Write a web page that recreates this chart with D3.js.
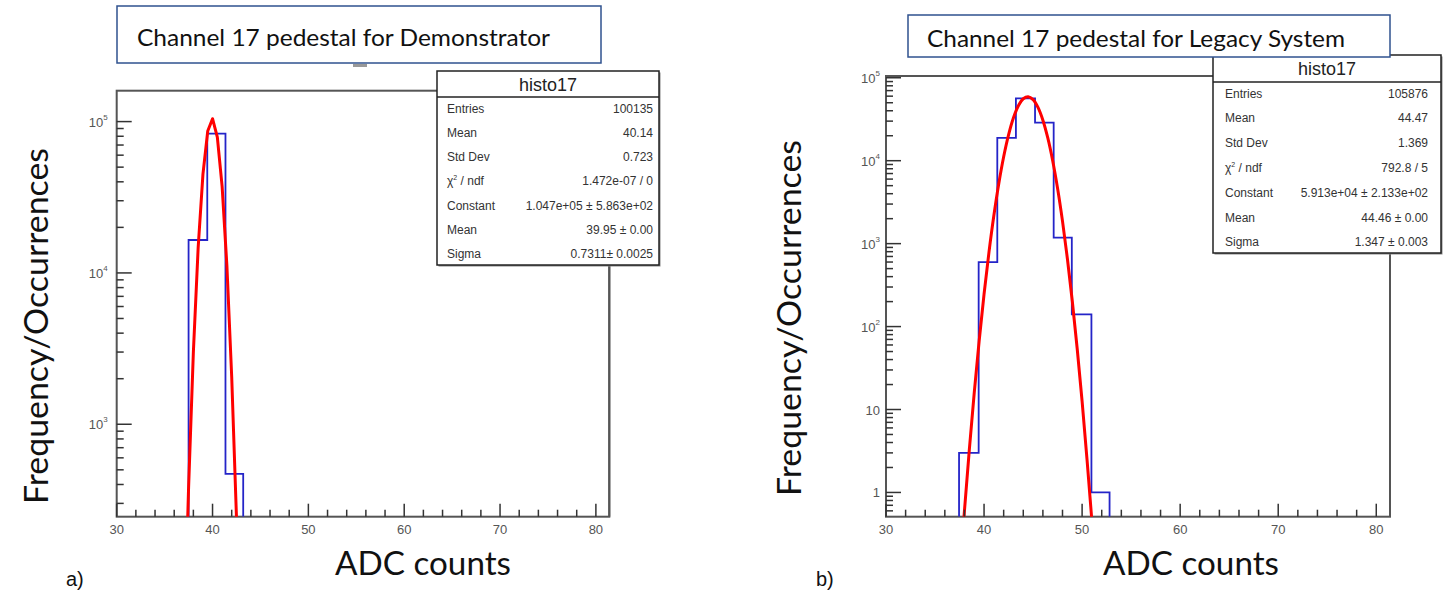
<!DOCTYPE html>
<html lang="en">
<head>
  <meta charset="UTF-8">
  <title>Channel 17 pedestal: Demonstrator vs Legacy System</title>
  <script src="https://d3js.org/d3.v7.min.js"></script>
  <style>
    body { margin: 0; background: #fff; }
    svg { display: block; }
    .sans { font-family: Lato, "Open Sans", sans-serif; }
    .root { font-family: "Liberation Sans", Arial, sans-serif; }
  </style>
</head>
<body>
  <div id="chart"></div>

  <script>
    // ---- data ----
    // a) Demonstrator
    const demoEdges = [37.5, 39.45, 41.35, 43.2];
    const demoCounts = [16500, 83200, 470];
    const demoFitX = [37.0, 37.5, 38.0, 38.5, 39.0, 39.5, 40.0, 40.5, 41.0, 41.5, 42.0, 42.5, 43.0];
    const demoFitY = [30, 380, 3000, 14700, 45000, 86700, 104500, 79000, 37300, 11100, 2060, 240, 17];
    const demoStatLabels = ["Entries", "Mean", "Std Dev", "chi2", "Constant", "Mean", "Sigma"];
    const demoStatValues = ["100135", "40.14", "0.723", "1.472e-07 / 0", "1.047e+05 \u00b1 5.863e+02", "39.95 \u00b1 0.00", "0.7311\u00b1 0.0025"];

    // b) Legacy System
    const legacyEdges = [37.45, 39.45, 41.35, 43.25, 45.2, 47.1, 48.95, 50.95, 52.8];
    const legacyCounts = [3, 600, 18800, 56300, 28800, 1180, 140, 1];
    const legacyFitX = [37.5, 38, 38.5, 39, 39.5, 40, 40.5, 41, 41.5, 42, 42.5, 43, 43.5, 44, 44.5,
                        45, 45.5, 46, 46.5, 47, 47.5, 48, 48.5, 49, 49.5, 50, 50.5, 51, 51.5];
    const legacyFitY = [0.094, 0.6, 3.3, 16, 67, 246, 785, 2180, 5280, 11170, 20500, 32900, 45900, 55800, 59100,
                        54600, 43900, 30800, 18800, 10000, 4630, 1870, 658, 202, 54, 12.5, 2.5, 0.45, 0.07];
    const legacyStatLabels = ["Entries", "Mean", "Std Dev", "chi2", "Constant", "Mean", "Sigma"];
    const legacyStatValues = ["105876", "44.47", "1.369", "792.8 / 5", "5.913e+04 \u00b1 2.133e+02", "44.46 \u00b1 0.00", "1.347 \u00b1 0.003"];

    const xLabelTicks = [30, 40, 50, 60, 70, 80];
    const xDomain = [30, 81.4];
    const demoYDomain = [245, 160000];
    const legacyYDomain = [0.51, 105000];

    const W = 1453, H = 596;
    const svg = d3.select("#chart").append("svg")
      .attr("width", W).attr("height", H);

    function drawPanel(p) {
      const g = svg.append("g");
      const x = d3.scaleLinear().domain(xDomain).range([p.x0, p.x1]);
      const y = d3.scaleLog().domain(p.yDomain).range([p.y1, p.y0]);

      // frame
      g.append("rect")
        .attr("x", p.x0).attr("y", p.y0)
        .attr("width", p.x1 - p.x0).attr("height", p.y1 - p.y0)
        .attr("fill", "#fff").attr("stroke", "#555").attr("stroke-width", 2);

      const clipId = "clip-" + p.id;
      svg.append("clipPath").attr("id", clipId).append("rect")
        .attr("x", p.x0).attr("y", p.y0)
        .attr("width", p.x1 - p.x0).attr("height", p.y1 - p.y0);

      // histogram outline
      const yMin = p.yDomain[0];
      const pts = [[p.edges[0], yMin]];
      p.counts.forEach((c, i) => {
        pts.push([p.edges[i], c]);
        pts.push([p.edges[i + 1], c]);
      });
      pts.push([p.edges[p.edges.length - 1], yMin]);
      g.append("path")
        .attr("clip-path", `url(#${clipId})`)
        .attr("d", d3.line().x(d => x(d[0])).y(d => y(d[1]))(pts))
        .attr("fill", "none").attr("stroke", "#2424c8").attr("stroke-width", 1.8);

      // fit curve
      const fit = p.fitX.map((v, i) => [v, p.fitY[i]]);
      g.append("path")
        .attr("clip-path", `url(#${clipId})`)
        .attr("d", d3.line().curve(p.curve).x(d => x(d[0])).y(d => y(d[1]))(fit))
        .attr("fill", "none").attr("stroke", "#ff0000").attr("stroke-width", 3)
        .attr("stroke-linejoin", "round");

      // x ticks: every 2, major every 10
      const xt = d3.range(30, 81.4, 2);
      g.selectAll(".xt").data(xt).enter().append("line")
        .attr("x1", d => x(d)).attr("x2", d => x(d))
        .attr("y1", p.y1).attr("y2", d => p.y1 - (d % 10 === 0 ? 13 : 7))
        .attr("stroke", "#333").attr("stroke-width", 1.5);
      g.selectAll(".xl").data(xLabelTicks).enter().append("text")
        .attr("class", "root")
        .attr("x", d => x(d)).attr("y", p.y1 + 17)
        .attr("text-anchor", "middle")
        .attr("font-size", 13).attr("fill", "#555")
        .text(d => d);

      // y ticks on log axis
      const yt = [];
      for (let e = Math.floor(Math.log10(p.yDomain[0])); e <= Math.ceil(Math.log10(p.yDomain[1])); e++) {
        for (let m = 1; m <= 9; m++) {
          const v = m * Math.pow(10, e);
          if (v >= p.yDomain[0] && v <= p.yDomain[1]) yt.push({ v, major: m === 1, e });
        }
      }
      g.selectAll(".yt").data(yt).enter().append("line")
        .attr("x1", p.x0).attr("x2", d => p.x0 + (d.major ? 15 : 7))
        .attr("y1", d => y(d.v)).attr("y2", d => y(d.v))
        .attr("stroke", "#333").attr("stroke-width", 1.5);
      yt.filter(d => d.major).forEach(d => {
        const t = g.append("text").attr("class", "root")
          .attr("x", p.x0 - p.labelGap).attr("y", y(d.v) + 5)
          .attr("text-anchor", "end").attr("font-size", 13).attr("fill", "#555");
        if (d.e === 0) t.text("1");
        else if (d.e === 1) t.text("10");
        else {
          t.append("tspan").text("10");
          t.append("tspan").attr("dy", -7).attr("font-size", 8).text(d.e);
        }
      });

      // right frame edge again on top of ticks
      g.append("line")
        .attr("x1", p.x1).attr("x2", p.x1).attr("y1", p.y0).attr("y2", p.y1)
        .attr("stroke", "#555").attr("stroke-width", 2);

      // stats box
      const s = p.stats;
      const sb = svg.append("g").attr("class", "root");
      sb.append("rect")
        .attr("x", s.x0 + 1.5).attr("y", s.y0 + 1.5)
        .attr("width", s.x1 - s.x0).attr("height", s.y1 - s.y0)
        .attr("fill", "#888");
      sb.append("rect")
        .attr("x", s.x0).attr("y", s.y0)
        .attr("width", s.x1 - s.x0).attr("height", s.y1 - s.y0)
        .attr("fill", "#fff").attr("stroke", "#222").attr("stroke-width", 1.5);
      sb.append("line")
        .attr("x1", s.x0).attr("x2", s.x1).attr("y1", s.yHead).attr("y2", s.yHead)
        .attr("stroke", "#222").attr("stroke-width", 1.5);
      sb.append("text")
        .attr("x", (s.x0 + s.x1) / 2).attr("y", (s.y0 + s.yHead) / 2 + 6.5)
        .attr("text-anchor", "middle").attr("font-size", 18).attr("fill", "#222")
        .attr("textLength", 58).attr("lengthAdjust", "spacingAndGlyphs")
        .text("histo17");
      p.statLabels.forEach((lab, i) => {
        const ty = s.row0 + i * s.rowStep + 4.5;
        const t = sb.append("text")
          .attr("x", s.labelX).attr("y", ty)
          .attr("font-size", 12).attr("fill", "#333");
        if (lab === "chi2") {
          t.append("tspan").text("\u03c7");
          t.append("tspan").attr("dy", -5).attr("font-size", 7).text("2");
          t.append("tspan").attr("dy", 5).text(" / ndf");
        } else {
          t.text(lab);
        }
        sb.append("text")
          .attr("x", s.valueX).attr("y", ty)
          .attr("text-anchor", "end")
          .attr("font-size", 12).attr("fill", "#333")
          .text(p.statValues[i]);
      });

      // title box
      const tb = p.title;
      svg.append("rect")
        .attr("x", tb.x).attr("y", tb.y).attr("width", tb.w).attr("height", tb.h)
        .attr("fill", "#fff").attr("stroke", "#2f528f").attr("stroke-width", 1.5);
      svg.append("text").attr("class", "sans")
        .attr("x", tb.tx).attr("y", tb.ty)
        .attr("font-size", 24).attr("fill", "#111")
        .attr("textLength", tb.len).attr("lengthAdjust", "spacingAndGlyphs")
        .text(tb.text);

      // axis titles
      svg.append("text").attr("class", "sans")
        .attr("transform", `translate(${p.yTitleX},${p.yTitleY}) rotate(-90)`)
        .attr("text-anchor", "middle")
        .attr("font-size", 32).attr("fill", "#111")
        .attr("textLength", 356).attr("lengthAdjust", "spacingAndGlyphs")
        .text("Frequency/Occurrences");
      svg.append("text").attr("class", "sans")
        .attr("x", p.xTitleX).attr("y", 575)
        .attr("text-anchor", "middle")
        .attr("font-size", 32).attr("fill", "#111")
        .attr("textLength", 176).attr("lengthAdjust", "spacingAndGlyphs")
        .text("ADC counts");
      svg.append("text")
        .attr("x", p.tagX).attr("y", 586)
        .attr("font-family", "Liberation Sans, Arial, sans-serif")
        .attr("font-size", 20).attr("fill", "#111")
        .text(p.tag);
    }

    drawPanel({
      id: "a", tag: "a)", tagX: 66,
      x0: 116.7, x1: 609.3, y0: 90.7, y1: 516.7,
      yDomain: demoYDomain, labelGap: 9,
      edges: demoEdges, counts: demoCounts,
      fitX: demoFitX, fitY: demoFitY, curve: d3.curveLinear,
      statLabels: demoStatLabels, statValues: demoStatValues,
      stats: { x0: 437, x1: 659, y0: 71, yHead: 97, y1: 265, row0: 108, rowStep: 24.3, labelX: 447, valueX: 653 },
      title: { x: 117, y: 6, w: 484, h: 57, tx: 137, ty: 46, len: 413, text: "Channel 17 pedestal for Demonstrator" },
      yTitleX: 48, yTitleY: 326, xTitleX: 423
    });

    drawPanel({
      id: "b", tag: "b)", tagX: 816,
      x0: 886, x1: 1390, y0: 76, y1: 516.7,
      yDomain: legacyYDomain, labelGap: 6,
      edges: legacyEdges, counts: legacyCounts,
      fitX: legacyFitX, fitY: legacyFitY, curve: d3.curveCatmullRom,
      statLabels: legacyStatLabels, statValues: legacyStatValues,
      stats: { x0: 1213, x1: 1441, y0: 55, yHead: 82, y1: 253, row0: 93, rowStep: 24.8, labelX: 1225, valueX: 1428 },
      title: { x: 908, y: 15, w: 482, h: 42, tx: 927, ty: 47, len: 418, text: "Channel 17 pedestal for Legacy System" },
      yTitleX: 801, yTitleY: 318, xTitleX: 1191
    });

    // small leftover mark under the first title box
    svg.append("rect").attr("x", 353).attr("y", 64).attr("width", 14).attr("height", 3).attr("fill", "#999");
  </script>
</body>
</html>
